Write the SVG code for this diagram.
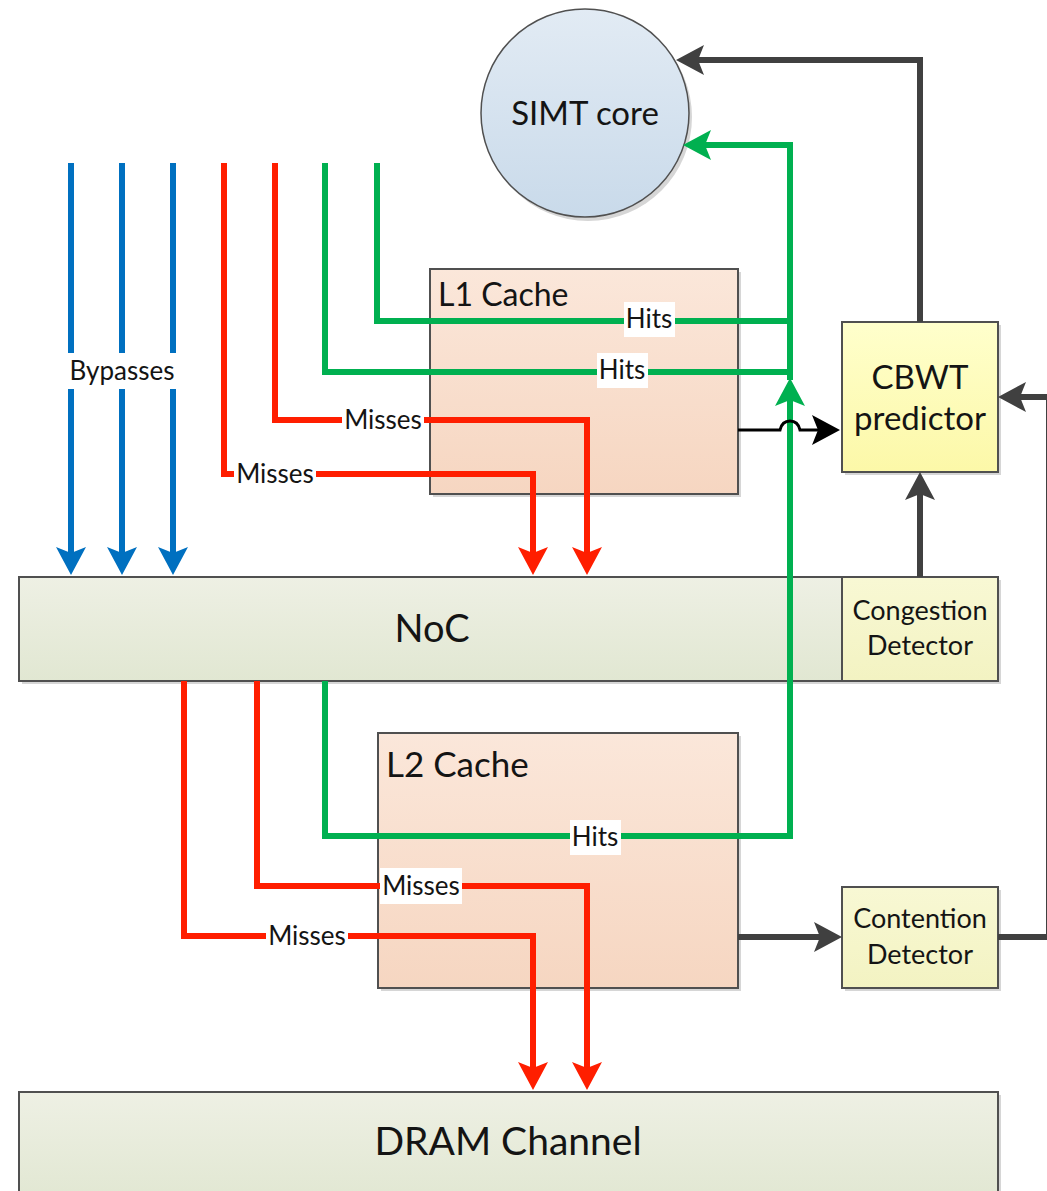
<svg xmlns="http://www.w3.org/2000/svg" width="1047" height="1191" viewBox="0 0 1047 1191">
<style>
text{font-family:Lato,"Open Sans","Liberation Sans",sans-serif;fill:#141414}
.box{stroke:#505050;stroke-width:2}
.sh{fill:#d6d6d6}
.ln{fill:none;stroke-width:6;stroke-linejoin:miter}
.blue{stroke:#0070C0}
.red{stroke:#FF1E00}
.green{stroke:#00B050}
.dark{stroke:#404040}
.lbl{font-size:26px;text-anchor:middle}
.bg{fill:#fff}
</style>
<defs>
<linearGradient id="gPeach" x1="0" y1="0" x2="0" y2="1"><stop offset="0" stop-color="#FBE7DA"/><stop offset="1" stop-color="#F6D6C1"/></linearGradient>
<linearGradient id="gGreen" x1="0" y1="0" x2="0" y2="1"><stop offset="0" stop-color="#EEF0E4"/><stop offset="1" stop-color="#E1E7D2"/></linearGradient>
<linearGradient id="gYellow" x1="0" y1="0" x2="0" y2="1"><stop offset="0" stop-color="#FFFFCC"/><stop offset="1" stop-color="#FCF8A8"/></linearGradient>
<linearGradient id="gPale" x1="0" y1="0" x2="0" y2="1"><stop offset="0" stop-color="#F8F8D4"/><stop offset="1" stop-color="#F3F3C2"/></linearGradient>
<linearGradient id="gBlue" x1="0" y1="0" x2="0" y2="1"><stop offset="0" stop-color="#E2EBF4"/><stop offset="1" stop-color="#C9DAEA"/></linearGradient>
<marker id="aBlue" viewBox="-20 -16 34 32" refX="0" refY="0" markerWidth="34" markerHeight="32" markerUnits="userSpaceOnUse" orient="auto"><path d="M12,0 L-16,-15 L-10,0 L-16,15 Z" fill="#0070C0"/></marker>
<marker id="aRed" viewBox="-20 -16 34 32" refX="0" refY="0" markerWidth="34" markerHeight="32" markerUnits="userSpaceOnUse" orient="auto"><path d="M12,0 L-16,-15 L-10,0 L-16,15 Z" fill="#FF1E00"/></marker>
<marker id="aGreen" viewBox="-20 -16 34 32" refX="0" refY="0" markerWidth="34" markerHeight="32" markerUnits="userSpaceOnUse" orient="auto"><path d="M12,0 L-16,-15 L-10,0 L-16,15 Z" fill="#00B050"/></marker>
<marker id="aDark" viewBox="-20 -16 34 32" refX="0" refY="0" markerWidth="34" markerHeight="32" markerUnits="userSpaceOnUse" orient="auto"><path d="M12,0 L-16,-15 L-10,0 L-16,15 Z" fill="#404040"/></marker>
<marker id="aBlack" viewBox="-20 -16 34 32" refX="0" refY="0" markerWidth="34" markerHeight="32" markerUnits="userSpaceOnUse" orient="auto"><path d="M12,0 L-16,-15 L-10,0 L-16,15 Z" fill="#000"/></marker>
</defs>

<g id="simt-core">
<circle cx="588" cy="117" r="104" class="sh"/>
<circle cx="585" cy="113" r="104" fill="url(#gBlue)" stroke="#505050" stroke-width="1.5"/>
<text x="585" y="125" font-size="33" text-anchor="middle">SIMT core</text>
</g>

<g id="l1-cache">
<rect x="433" y="272" width="308" height="225" class="sh"/>
<rect x="430" y="269" width="308" height="225" fill="url(#gPeach)" class="box"/>
<text x="438" y="306" font-size="32">L1 Cache</text>
</g>

<g id="cbwt-predictor">
<rect x="845" y="325" width="156" height="150" class="sh"/>
<rect x="842" y="322" width="156" height="150" fill="url(#gYellow)" class="box"/>
<text x="920" y="389" font-size="33" text-anchor="middle">CBWT</text>
<text x="920" y="430" font-size="33" text-anchor="middle">predictor</text>
</g>

<g id="noc">
<rect x="22" y="580" width="979" height="104" class="sh"/>
<rect x="19" y="577" width="823" height="104" fill="url(#gGreen)" class="box"/>
<text x="432" y="642" font-size="38" text-anchor="middle">NoC</text>
</g>

<g id="congestion-detector">
<rect x="842" y="577" width="156" height="104" fill="url(#gPale)" class="box"/>
<text x="920" y="620" font-size="27" text-anchor="middle">Congestion</text>
<text x="920" y="655" font-size="27" text-anchor="middle">Detector</text>
</g>

<g id="l2-cache">
<rect x="381" y="736" width="360" height="255" class="sh"/>
<rect x="378" y="733" width="360" height="255" fill="url(#gPeach)" class="box"/>
<text x="386" y="777" font-size="35">L2 Cache</text>
</g>

<g id="contention-detector">
<rect x="845" y="890" width="156" height="101" class="sh"/>
<rect x="842" y="887" width="156" height="101" fill="url(#gPale)" class="box"/>
<text x="920" y="928" font-size="27" text-anchor="middle">Contention</text>
<text x="920" y="964" font-size="27" text-anchor="middle">Detector</text>
</g>

<g id="dram-channel">
<rect x="22" y="1095" width="979" height="110" class="sh"/>
<rect x="19" y="1092" width="979" height="110" fill="url(#gGreen)" class="box"/>
<text x="508" y="1155" font-size="39" text-anchor="middle">DRAM Channel</text>
</g>

<g id="connectors">
<!-- bypasses -->
<path class="ln blue" d="M71,163 V563" marker-end="url(#aBlue)"/>
<path class="ln blue" d="M122,163 V563" marker-end="url(#aBlue)"/>
<path class="ln blue" d="M173,163 V563" marker-end="url(#aBlue)"/>
<rect class="bg" x="65" y="353" width="114" height="36"/>
<text class="lbl" x="122" y="380">Bypasses</text>

<!-- L1 misses -->
<path class="ln red" d="M275,163 V420 H587 V563" marker-end="url(#aRed)"/>
<path class="ln red" d="M224,163 V474 H533 V563" marker-end="url(#aRed)"/>
<rect class="bg" x="342" y="404" width="82" height="33"/>
<text class="lbl" x="383" y="429">Misses</text>
<rect class="bg" x="234" y="458" width="82" height="33"/>
<text class="lbl" x="275" y="483">Misses</text>

<!-- L1 hits -->
<path class="ln green" d="M377,163 V321 H790"/>
<path class="ln green" d="M325,163 V372 H790"/>
<rect class="bg" x="624" y="302" width="51" height="35"/>
<text class="lbl" x="649" y="328">Hits</text>
<rect class="bg" x="597" y="353" width="51" height="35"/>
<text class="lbl" x="622" y="379">Hits</text>

<!-- L2 hits up to SIMT core -->
<path class="ln green" d="M325,681 V836 H790 V390" marker-end="url(#aGreen)"/>
<path class="ln green" d="M790,380 V145 H695" marker-end="url(#aGreen)"/>
<rect class="bg" x="570" y="820" width="51" height="35"/>
<text class="lbl" x="595" y="846">Hits</text>

<!-- L2 misses -->
<path class="ln red" d="M257,681 V886 H587 V1078" marker-end="url(#aRed)"/>
<path class="ln red" d="M184,681 V936 H533 V1078" marker-end="url(#aRed)"/>
<rect class="bg" x="380" y="868" width="82" height="36"/>
<text class="lbl" x="421" y="895">Misses</text>
<rect class="bg" x="266" y="920" width="82" height="33"/>
<text class="lbl" x="307" y="945">Misses</text>

<!-- L1 to CBWT with hop -->
<path fill="none" stroke="#000" stroke-width="3" d="M738,430 H780 Q782,421 790,421 Q798,421 800,430 H828" marker-end="url(#aBlack)"/>

<!-- CBWT to SIMT core -->
<path class="ln dark" d="M920,322 V60 H688" marker-end="url(#aDark)"/>
<!-- Congestion to CBWT -->
<path class="ln dark" d="M920,577 V484" marker-end="url(#aDark)"/>
<!-- L2 to Contention -->
<path class="ln dark" d="M738,937 H830" marker-end="url(#aDark)"/>
<!-- Contention to CBWT -->
<path class="ln dark" d="M998,937 H1049 V397 H1010" marker-end="url(#aDark)"/>
</g>
</svg>
